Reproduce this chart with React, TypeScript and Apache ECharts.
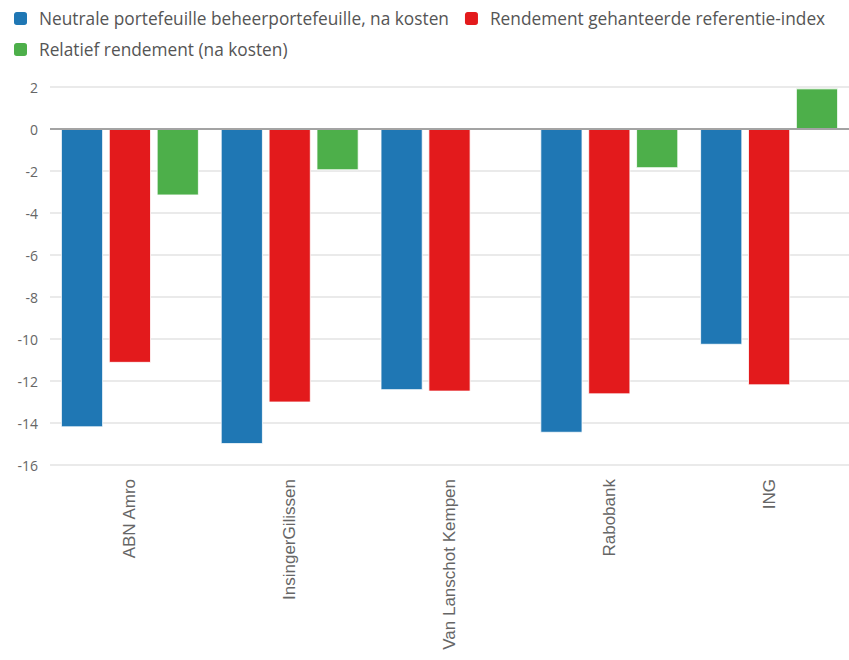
import React, { useEffect, useRef } from "react";
import * as echarts from "echarts";

const categories = ["ABN Amro", "InsingerGilissen", "Van Lanschot Kempen", "Rabobank", "ING"];
const seriesNames = [
  "Neutrale portefeuille beheerportefeuille, na kosten",
  "Rendement gehanteerde referentie-index",
  "Relatief rendement (na kosten)",
];
const neutraal = [-14.2, -15.0, -12.43, -14.46, -10.27];
const referentie = [-11.13, -13.02, -12.5, -12.63, -12.2];
const relatief = [-3.16, -1.96, 0.05, -1.86, 1.93];
const colors = ["#1f77b4", "#e31a1c", "#4daf4a"];
const yMin = -16;
const yMax = 2;
const yStep = 2;

export default function App() {
  const ref = useRef<HTMLDivElement>(null);
  useEffect(() => {
    document.body.style.margin = "0";
    const chart = echarts.init(ref.current!, null, { renderer: "svg" });
    const values = [neutraal, referentie, relatief];
    chart.setOption({
      animation: false,
      color: colors,
      legend: {
        data: seriesNames,
        left: 12,
        top: 10,
        padding: 0,
        width: 830,
        icon: "roundRect",
        itemWidth: 15,
        itemHeight: 15,
        itemGap: 14,
        textStyle: {
          fontFamily: "Open Sans",
          fontSize: 17.3,
          lineHeight: 12,
          color: "#555555",
          padding: [0, 0, 0, 6],
        },
      },
      grid: { left: 50, top: 87, width: 804, height: 378, containLabel: false },
      xAxis: {
        type: "category",
        data: categories,
        axisLine: { show: false, onZero: false },
        axisTick: { show: false },
        axisLabel: {
          rotate: 90,
          margin: 14,
          fontFamily: "Liberation Sans",
          fontSize: 17,
          color: "#666666",
        },
      },
      yAxis: {
        type: "value",
        min: yMin,
        max: yMax,
        interval: yStep,
        axisLine: { show: false },
        axisTick: { show: false },
        axisLabel: {
          margin: 12,
          fontFamily: "Open Sans",
          fontSize: 14,
          color: "#666666",
        },
        splitLine: { lineStyle: { color: "#e3e3e3", width: 1.5 } },
      },
      series: seriesNames.map((name, i) => ({
        name,
        type: "bar",
        data: values[i],
        barWidth: 42,
        barGap: "14%",
        itemStyle: { color: colors[i], borderColor: "#ffffff", borderWidth: 0.8 },
        markLine:
          i === 0
            ? {
                silent: true,
                symbol: "none",
                label: { show: false },
                lineStyle: { color: "#a3a3a3", width: 2, type: "solid" },
                data: [{ yAxis: 0 }],
                z: 10,
              }
            : undefined,
      })),
    });
    return () => chart.dispose();
  }, []);
  return <div ref={ref} style={{ width: 849, height: 660 }} />;
}
